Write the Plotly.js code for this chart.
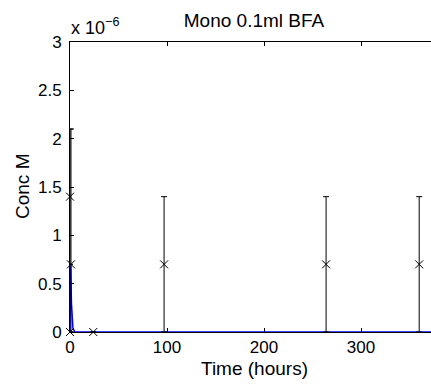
<!DOCTYPE html>
<html><head><meta charset="utf-8">
<script src="https://cdn.plot.ly/plotly-3.0.1.min.js"></script>
<style>html,body{margin:0;padding:0;overflow:hidden;background:#fff}</style>
</head><body><div id="chart"></div>
<script>
// Measured data (hours, concentration M)
const timeData = [0, 0, 1, 24, 97, 264, 360];
const concData = [0, 1.4e-6, 0.7e-6, 0, 0.7e-6, 0.7e-6, 0.7e-6];
const errPlus  = [0, 0.7e-6, 1.4e-6, 0, 0.7e-6, 0.7e-6, 0.7e-6];
const errMinus = [0, 0.7e-6, 0.7e-6, 0, 0.7e-6, 0.7e-6, 0.7e-6];
// Model curve
const modelTime = [0, 0.3, 0.7, 1, 1.5, 2, 3, 5, 400];
const modelConc = [0, 0.55e-6, 0.7e-6, 0.55e-6, 0.3e-6, 0.15e-6, 0.04e-6, 0, 0];
// Ticks
const xTicks = [0, 100, 200, 300];
const yTickVals = [0, 0.5e-6, 1e-6, 1.5e-6, 2e-6, 2.5e-6, 3e-6];
const yTickText = ['0', '0.5', '1', '1.5', '2', '2.5', '3'];

const fam = 'Liberation Sans, Arial, sans-serif';
const tickFont = {family: fam, size: 17, color: '#000'};
const labelFont = {family: fam, size: 19, color: '#000'};
const W = 445, H = 390, L = 70, R = 0, T = 42, B = 58;
const pxPerUnit = 0.97;
const xMax = (W - L - R) / pxPerUnit;
const plotW = W - L - R, plotH = H - T - B;

const traces = [
  {
    x: modelTime, y: modelConc, type: 'scatter', mode: 'lines',
    line: {color: '#0000ff', width: 1.5}, hoverinfo: 'skip'
  },
  {
    x: timeData, y: concData, type: 'scatter', mode: 'markers',
    marker: {symbol: 'x-thin-open', size: 8, color: '#000', line: {color: '#000', width: 1}},
    error_y: {type: 'data', symmetric: false, array: errPlus, arrayminus: errMinus,
              color: '#000', thickness: 1, width: 3},
    cliponaxis: false
  }
];

const layout = {
  width: W, height: H,
  margin: {l: L, r: R, t: T, b: B},
  paper_bgcolor: '#fff', plot_bgcolor: '#fff',
  showlegend: false,
  font: tickFont,
  title: {text: 'Mono 0.1ml BFA', font: labelFont,
          x: 254 / W, xanchor: 'center', y: 1 - 20 / H, yanchor: 'middle'},
  xaxis: {
    range: [0, xMax], tickvals: xTicks, ticktext: xTicks.map(String),
    ticks: 'inside', ticklen: 4, tickcolor: '#000', tickwidth: 1,
    showline: true, linecolor: '#000', linewidth: 1, mirror: 'ticks',
    showgrid: false, zeroline: false, layer: 'below traces',
    tickfont: tickFont, ticklabelstandoff: 0
  },
  yaxis: {
    range: [0, 3e-6], tickvals: yTickVals, ticktext: yTickText,
    ticks: 'inside', ticklen: 4, tickcolor: '#000', tickwidth: 1,
    showline: true, linecolor: '#000', linewidth: 1, mirror: 'ticks',
    showgrid: false, zeroline: false, layer: 'below traces',
    tickfont: tickFont, ticklabelstandoff: 4
  },
  annotations: [
    {text: 'Time (hours)', xref: 'paper', yref: 'paper',
     x: (254 - L) / plotW, y: 0, xanchor: 'center', yanchor: 'middle',
     yshift: -(368 - (H - B)), showarrow: false, font: labelFont},
    {text: 'Conc M', xref: 'paper', yref: 'paper', textangle: -90,
     x: 0, y: (H - B - 187) / plotH, xanchor: 'center', yanchor: 'middle',
     xshift: -(L - 22), showarrow: false, font: labelFont},
    {text: 'x 10<sup>\u22126</sup>', xref: 'paper', yref: 'paper',
     x: 0, y: 1, xanchor: 'left', yanchor: 'middle',
     xshift: -1, yshift: 16, showarrow: false, font: {family: fam, size: 18, color: '#000'}}
  ]
};

Plotly.newPlot('chart', traces, layout, {displayModeBar: false, staticPlot: true});
</script></body></html>
